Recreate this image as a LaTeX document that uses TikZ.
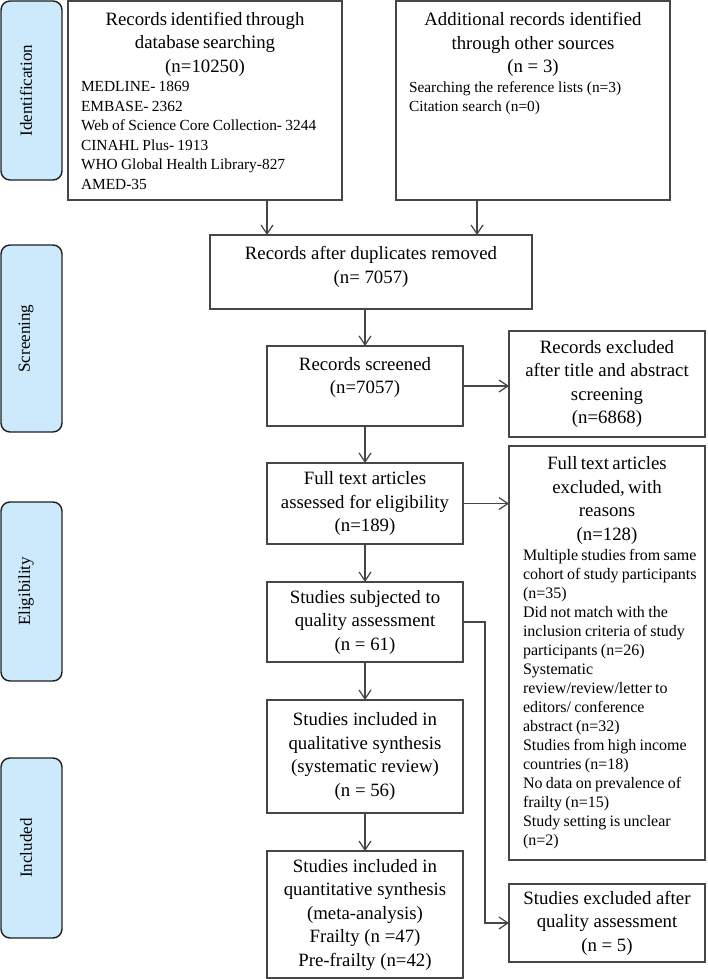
\documentclass[tikz,border=0pt]{standalone}
\usepackage{fontspec}
\setmainfont{Liberation Serif}
\usetikzlibrary{arrows.meta}
\setlength{\parindent}{0pt}
\definecolor{sideblue}{RGB}{204,234,252}
\definecolor{boxline}{RGB}{70,70,70}
\definecolor{sideline}{RGB}{30,30,30}
\newcommand\fHd{\fontsize{18.8pt}{23.5pt}\selectfont}
\newcommand\fLs{\fontsize{15.4pt}{19.5pt}\selectfont}
\newcommand\fGl{\fontsize{16pt}{19pt}\selectfont}
\newcommand\fSd{\fontsize{17pt}{20pt}\selectfont}
\newcommand\TopBox[3]{\parbox[c][#2][t]{#1}{\vspace*{11.4pt}#3}}
\begin{document}
\begin{tikzpicture}[x=1pt,y=-1pt,
  box/.style={draw=boxline, line width=1.3pt, inner sep=0pt, outer sep=0pt},
  cbox/.style={box, align=center, font=\fHd},
  side/.style={draw=sideline, fill=sideblue, line width=1.4pt, rounded corners=9pt, minimum width=61pt, inner sep=0pt},
  sidetxt/.style={rotate=90, font=\fSd, inner sep=0pt},
  arr/.style={draw=boxline, line width=1.2pt, -{Straight Barb[length=9pt,width=12pt]}},
]
\useasboundingbox (0,0) rectangle (707,979);

% phase labels
\node[side, minimum height=179pt] (sid) at (31.5,90.5) {};
\node[sidetxt] (sidt) at ([xshift=-5.5pt]sid.center) {Identification};
\node[side, minimum height=187pt] (sscr) at (31.5,338.5) {};
\node[sidetxt] (sscrt) at ([xshift=-5.5pt]sscr.center) {Screening};
\node[side, minimum height=179pt] (seli) at (31.5,591.5) {};
\node[sidetxt] (selit) at ([xshift=-5.5pt]seli.center) {Eligibility};
\node[side, minimum height=180pt] (sinc) at (31.5,848) {};
\node[sidetxt] (sinct) at ([xshift=-5.5pt]sinc.center) {Included};

% boxes
\node[box, minimum width=274pt, minimum height=199pt, text width=248pt] (A) at (205,100.5)
 {{\centering\fHd Records identified through\\ database searching\\ (n=10250)\par}%
  {\fLs MEDLINE- 1869\\ EMBASE- 2362\\ Web of Science Core Collection- 3244\\ CINAHL Plus- 1913\\ WHO Global Health Library-827\\ AMED-35\par}};

\node[box, minimum width=274pt, minimum height=199pt] (B) at (533,100.5)
 {\TopBox{274pt}{199pt}{{\centering\fHd Additional records identified\\ through other sources\\ (n = 3)\par}%
  {\fLs\leftskip=13pt Searching the reference lists (n=3)\\ Citation search (n=0)\par}}};

\node[box, minimum width=322pt, minimum height=74pt] (C) at (371,272)
 {\TopBox{322pt}{74pt}{\centering\fHd Records after duplicates removed\\ (n= 7057)\par}};

\node[box, minimum width=196pt, minimum height=80pt] (D) at (365,386)
 {\TopBox{196pt}{80pt}{\centering\fHd Records screened\\ (n=7057)\par}};

\node[cbox, minimum width=196pt, minimum height=106pt] (E) at (607,384)
 {Records excluded\\ after title and abstract\\ screening\\ (n=6868)};

\node[cbox, minimum width=196pt, minimum height=81pt] (F) at (365,503.5)
 {Full text articles\\ assessed for eligibility\\ (n=189)};

\node[box, minimum width=196pt, minimum height=414pt, text width=196pt] (G) at (607,653)
 {{\centering\fHd Full text articles\\ excluded, with\\ reasons\\ (n=128)\par}\vspace{1.5pt}%
  {\fGl\leftskip=14pt Multiple studies from same\\ cohort of study participants\\ (n=35)\\ Did not match with the\\ inclusion criteria of study\\ participants (n=26)\\ Systematic\\ review/review/letter to\\ editors/ conference\\ abstract (n=32)\\ Studies from high income\\ countries (n=18)\\ No data on prevalence of\\ frailty (n=15)\\ Study setting is unclear\\ (n=2)\par}};

\node[cbox, minimum width=196pt, minimum height=80pt] (H) at (365,622)
 {Studies subjected to\\ quality assessment\\ (n = 61)};

\node[cbox, minimum width=196pt, minimum height=113pt] (I) at (365,756.5)
 {Studies included in\\ qualitative synthesis\\ (systematic review)\\ (n = 56)};

\node[cbox, minimum width=196pt, minimum height=127pt] (J) at (365,914.5)
 {Studies included in\\ quantitative synthesis\\ (meta-analysis)\\ Frailty (n =47)\\ Pre-frailty (n=42)};

\node[cbox, minimum width=196pt, minimum height=78pt] (K) at (607,923)
 {Studies excluded after\\ quality assessment\\ (n = 5)};

% connectors
\draw[arr] ([xshift=62pt]A.south) -- ([xshift=62pt]A.south |- C.north);
\draw[arr] ([xshift=-56pt]B.south) -- ([xshift=-56pt]B.south |- C.north);
\draw[arr] (D.north |- C.south) -- (D.north);
\draw[arr] (D.south) -- (F.north);
\draw[arr] (F.south) -- (H.north);
\draw[arr] (H.south) -- (I.north);
\draw[arr] (I.south) -- (J.north);
\draw[arr] (D.east) -- (D.east -| E.west);
\draw[arr] (F.east) -- (F.east -| G.west);
\draw[arr] (H.east) -- ++(22,0) |- (K.west);
\end{tikzpicture}
\end{document}
